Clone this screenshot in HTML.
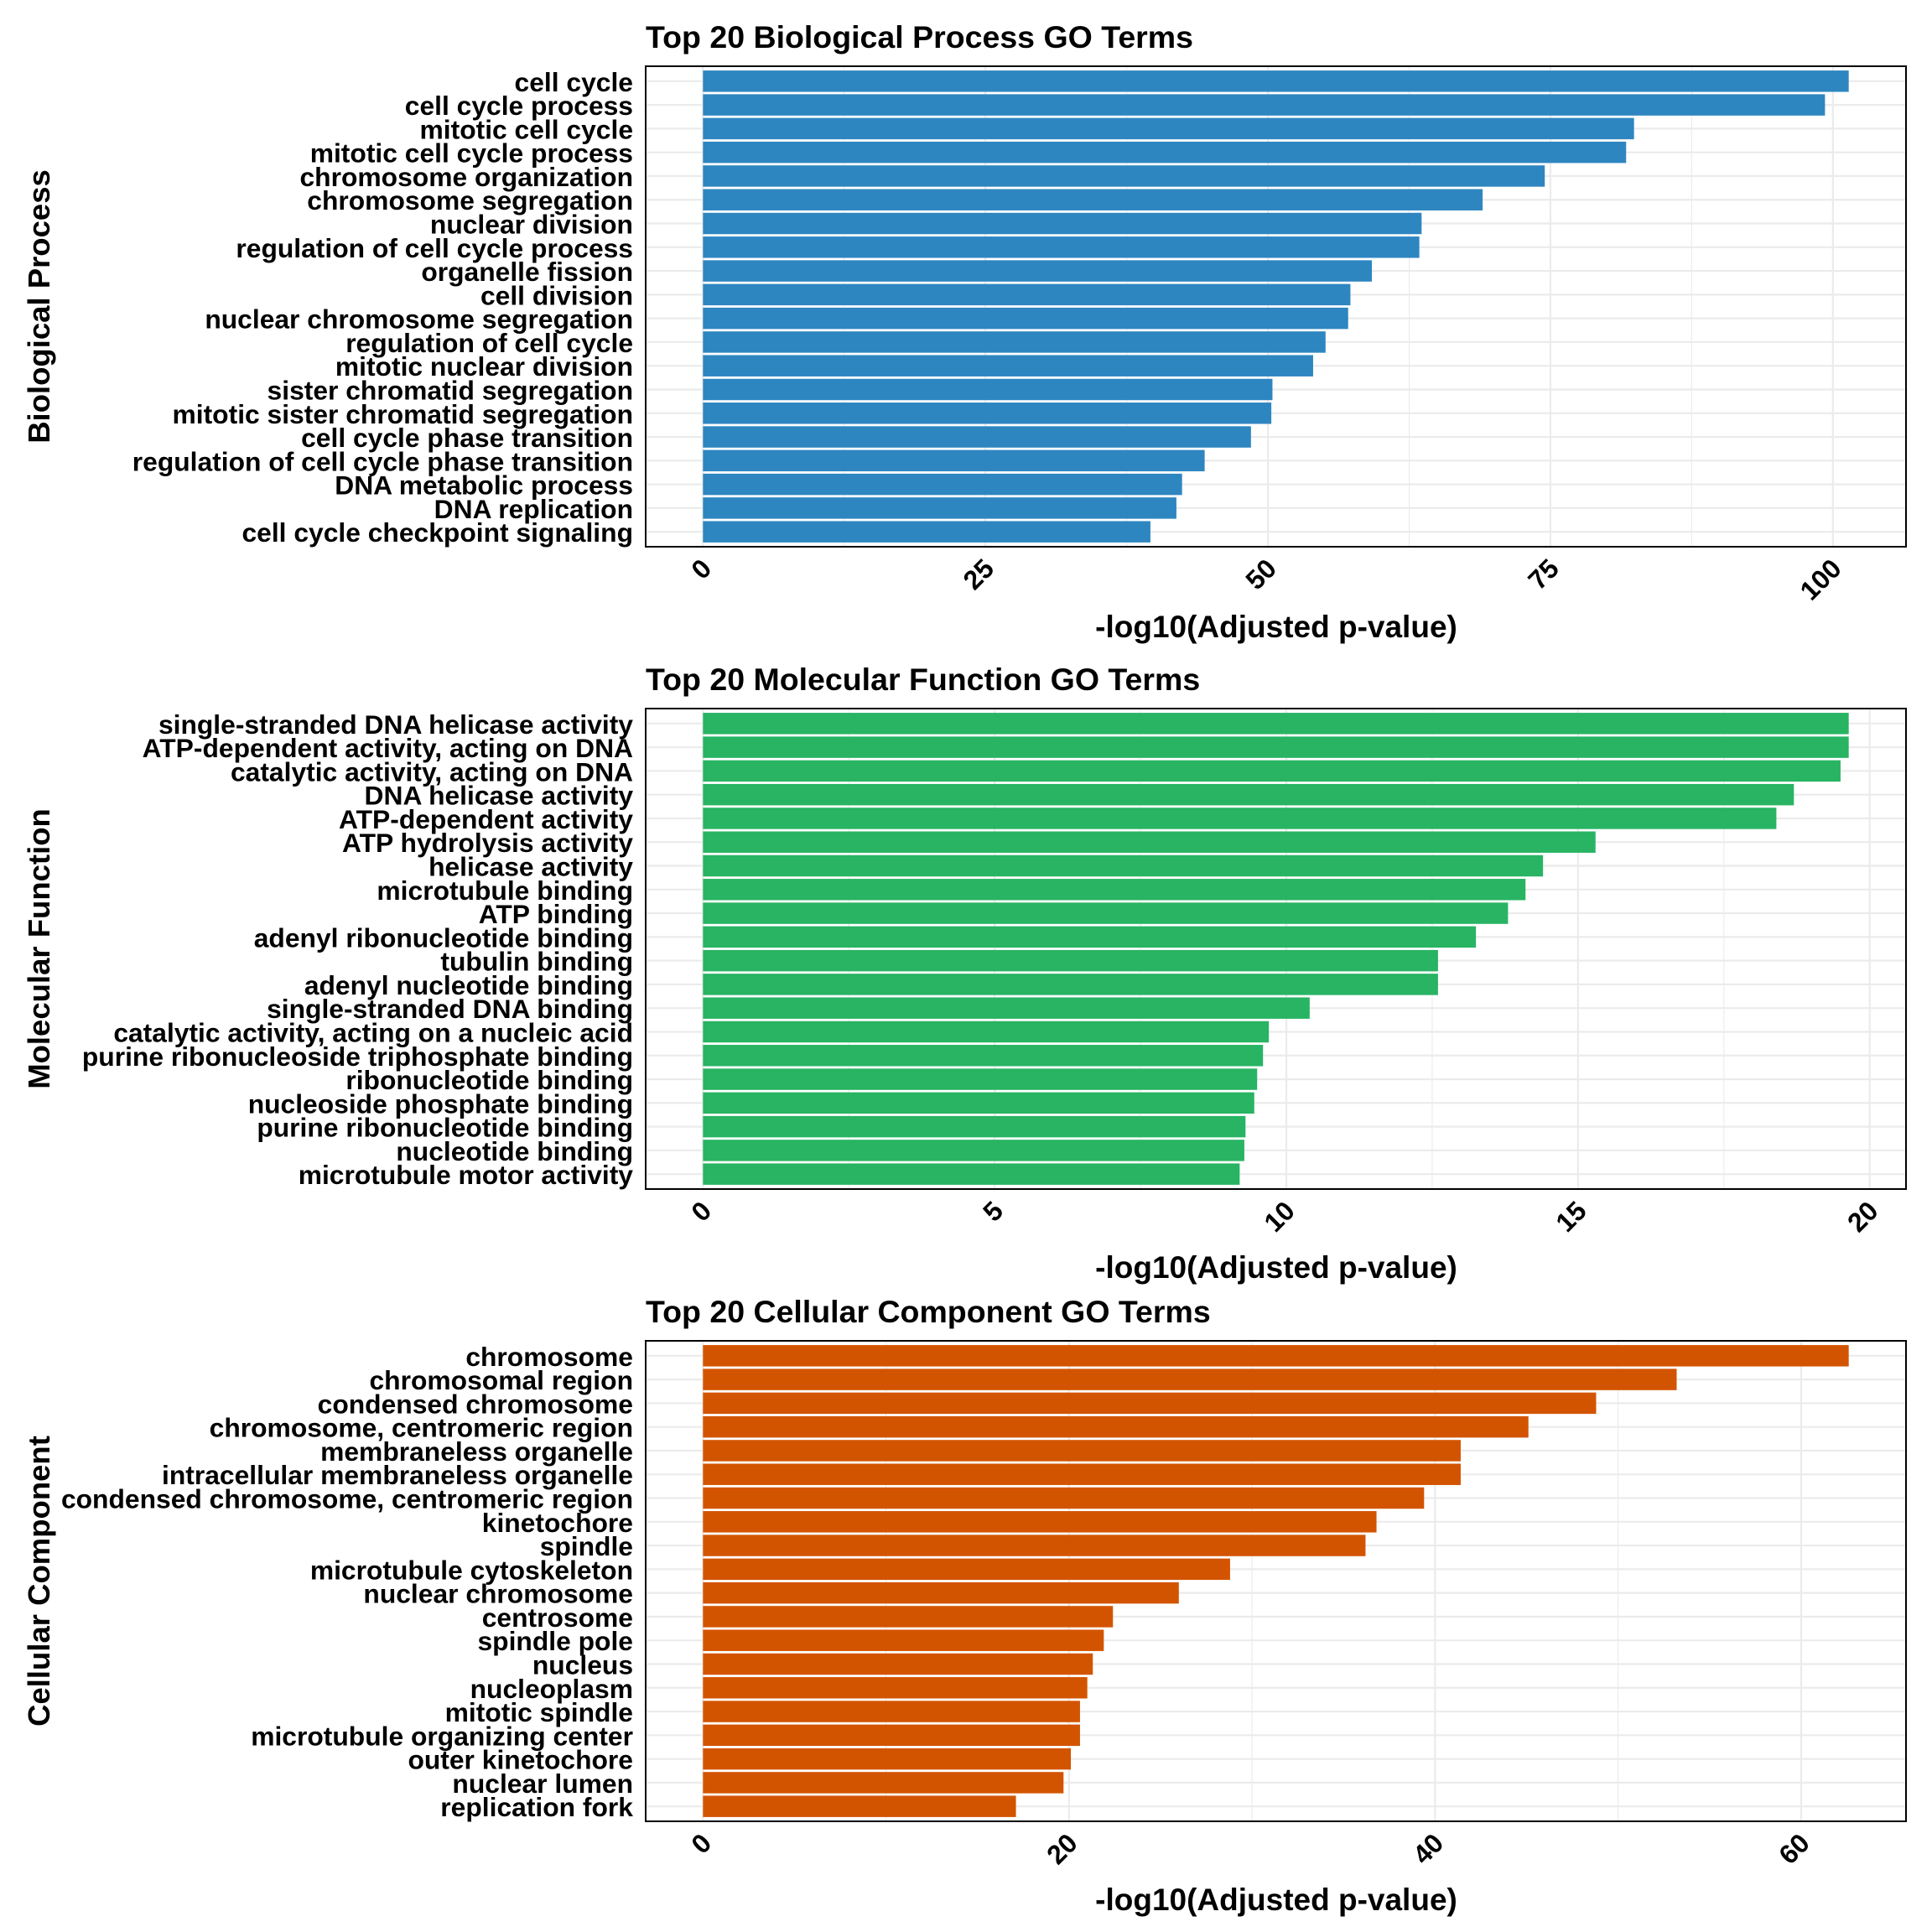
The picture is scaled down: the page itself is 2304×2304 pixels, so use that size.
<!DOCTYPE html>
<html><head><meta charset="utf-8"><style>
html,body{margin:0;padding:0;background:#fff}
svg{display:block}
text{font-family:"Liberation Sans",sans-serif;font-weight:bold;fill:#000}
</style></head><body>
<svg id="chart" width="2304" height="2304" viewBox="0 0 2304 2304" xmlns="http://www.w3.org/2000/svg"></svg>
<script>
const bpTerms = ["cell cycle","cell cycle process","mitotic cell cycle","mitotic cell cycle process","chromosome organization","chromosome segregation","nuclear division","regulation of cell cycle process","organelle fission","cell division","nuclear chromosome segregation","regulation of cell cycle","mitotic nuclear division","sister chromatid segregation","mitotic sister chromatid segregation","cell cycle phase transition","regulation of cell cycle phase transition","DNA metabolic process","DNA replication","cell cycle checkpoint signaling"];
const bpValues = [101.4,99.3,82.4,81.7,74.5,69.0,63.6,63.4,59.2,57.3,57.1,55.1,54.0,50.4,50.3,48.5,44.4,42.4,41.9,39.6];
const bpTicks = [0,25,50,75,100];
const mfTerms = ["single-stranded DNA helicase activity","ATP-dependent activity, acting on DNA","catalytic activity, acting on DNA","DNA helicase activity","ATP-dependent activity","ATP hydrolysis activity","helicase activity","microtubule binding","ATP binding","adenyl ribonucleotide binding","tubulin binding","adenyl nucleotide binding","single-stranded DNA binding","catalytic activity, acting on a nucleic acid","purine ribonucleoside triphosphate binding","ribonucleotide binding","nucleoside phosphate binding","purine ribonucleotide binding","nucleotide binding","microtubule motor activity"];
const mfValues = [19.64,19.64,19.5,18.7,18.4,15.3,14.4,14.1,13.8,13.25,12.6,12.6,10.4,9.7,9.6,9.5,9.45,9.3,9.28,9.2];
const mfTicks = [0,5,10,15,20];
const ccTerms = ["chromosome","chromosomal region","condensed chromosome","chromosome, centromeric region","membraneless organelle","intracellular membraneless organelle","condensed chromosome, centromeric region","kinetochore","spindle","microtubule cytoskeleton","nuclear chromosome","centrosome","spindle pole","nucleus","nucleoplasm","mitotic spindle","microtubule organizing center","outer kinetochore","nuclear lumen","replication fork"];
const ccValues = [62.6,53.2,48.8,45.1,41.4,41.4,39.4,36.8,36.2,28.8,26.0,22.4,21.9,21.3,21.0,20.6,20.6,20.1,19.7,17.1];
const ccTicks = [0,20,40,60];

const NS="http://www.w3.org/2000/svg";
const svg=document.getElementById('chart');
function mk(tag,attrs,parent,txt){const e=document.createElementNS(NS,tag);for(const k in attrs)e.setAttribute(k,attrs[k]);if(txt!==undefined)e.textContent=txt;(parent||svg).appendChild(e);return e;}

const L=770,R=2273,H=573;
function panel(key,top,title,yTitle,terms,values,ticks,color){
  const g=mk('g',{});
  
  
  const maxV=Math.max(...values);
  const span=maxV*1.1;
  const x0=L+(R-L)*0.05/1.1;
  const sx=v=>x0+v*(R-L)/span;
  const n=terms.length;
  const exp=0.18;
  const unit=H/(n-1+0.9+2*exp);
  const sy=i=>top+unit*(exp+0.45+i);
  const step=ticks[1]-ticks[0];
  for(let v=0; sx(v)<=R; v+=step/2){
    const major=Math.abs((v/step)-Math.round(v/step))<1e-6;
    const ln=mk('line',{x1:sx(v),x2:sx(v),y1:top,y2:top+H,stroke:'#ebebeb','stroke-width':major?2.2:1.1},g);
    
    
  }
  for(let i=0;i<n;i++){
    const ln=mk('line',{x1:L,x2:R,y1:sy(i),y2:sy(i),stroke:'#ebebeb','stroke-width':2.2},g);
    
    
  }
  for(let i=0;i<n;i++){
    const bh=unit*0.9;
    const b=mk('rect',{x:sx(0),y:sy(i)-bh/2,width:sx(values[i])-sx(0),height:bh,fill:color},g);
    
    
    const t=mk('text',{x:755,y:sy(i)+12,'text-anchor':'end','font-size':31.8},g,terms[i]);
    
    
  }
  const border=mk('rect',{x:L,y:top,width:R-L,height:H,fill:'none',stroke:'#000','stroke-width':2},g);
  
  
  for(const v of ticks){
    const px=sx(v),py=top+H+18;
    const t=mk('text',{x:px+12,y:py+10,'text-anchor':'end','font-size':32,transform:`rotate(-45 ${px+12} ${py+10})`},g,String(v));
    
    
  }
  const tt=mk('text',{x:L,y:top-22,'font-size':37.5},g,title);
  
  
  const xt=mk('text',{x:1522,y:top+H+(key==='bp'?108:106),'text-anchor':'middle','font-size':37},g,'-log10(Adjusted p-value)');
  
  
  const cy=top+H/2;
  const yt=mk('text',{x:59,y:cy,'text-anchor':'middle','font-size':36.5,transform:`rotate(-90 59 ${cy})`},g,yTitle);
  
  
}
panel('bp',79,'Top 20 Biological Process GO Terms','Biological Process',bpTerms,bpValues,bpTicks,'#2E86C1');
panel('mf',845,'Top 20 Molecular Function GO Terms','Molecular Function',mfTerms,mfValues,mfTicks,'#28B463');
panel('cc',1599,'Top 20 Cellular Component GO Terms','Cellular Component',ccTerms,ccValues,ccTicks,'#D35400');
</script>
</body></html>
